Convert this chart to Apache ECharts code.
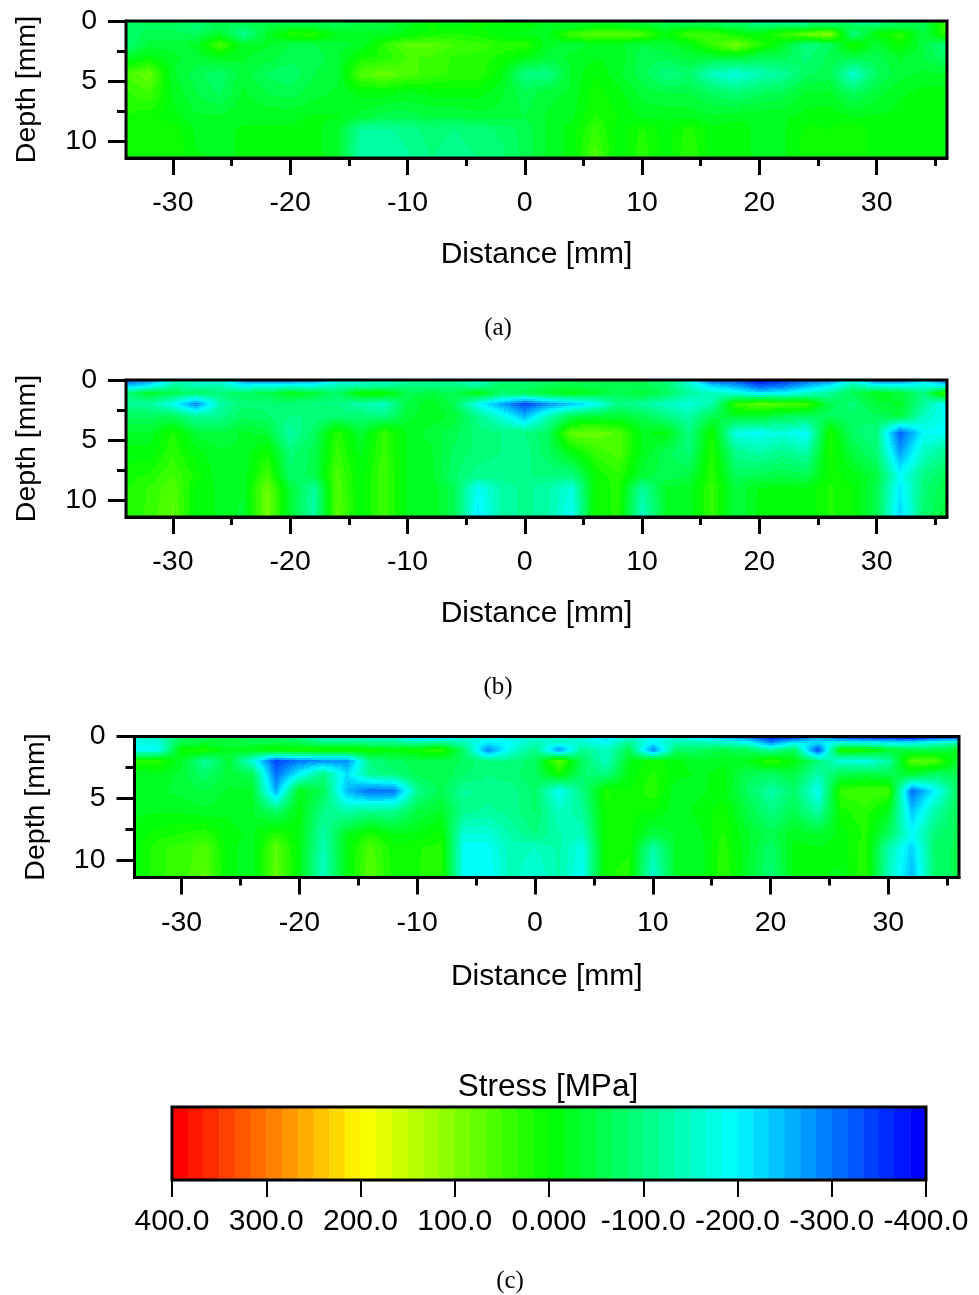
<!DOCTYPE html>
<html>
<head>
<meta charset="utf-8">
<style>
  html, body { margin: 0; padding: 0; background: #fff; }
  #chart { width: 979px; height: 1295px; }
</style>
<script src="https://cdn.jsdelivr.net/npm/echarts@6/dist/echarts.min.js"></script>
</head>
<body>
<div id="chart"></div>
<script>
const distances = [-34, -32, -30, -28, -26, -24, -22, -20, -18, -16, -14, -12, -10, -8, -6, -4, -2, 0, 2, 4, 6, 8, 10, 12, 14, 16, 18, 20, 22, 24, 26, 28, 30, 32, 34, 36];
const depths = [0, 0.5, 1.1, 2, 3, 4.4, 6, 8, 9, 11.4];

// stress in MPa, one row per depth, one column per distance
const stressA = [
  [-70, -60, -60, -70, -50, -50, -50, -60, -70, -80, -60, -50, -30, 10, -10, 10, 10, 10, -20, -30, -30, -30, -50, -70, -70, -80, -100, -110, -110, -110, -100, -110, -120, -70, -50, 40],
  [-70, -70, -70, -90, -60, -80, -50, -40, -40, -50, -40, -40, -20, 0, -10, 0, -10, -10, -30, -30, -10, -10, -20, -40, -30, -40, -50, -70, -60, -60, -40, -60, -60, -50, -60, 50],
  [-80, -60, -60, -70, -30, -110, -30, 20, 25, -20, -30, -30, -10, 10, 20, 10, -10, -20, -20, 50, 70, 70, 60, -10, 50, 50, 0, -10, 40, 80, 110, -100, 0, 30, -50, 40],
  [-90, -40, -40, -30, 55, -30, -30, -50, -50, -40, -30, 30, 70, 70, 50, 40, 30, 30, -30, -40, -30, -30, -50, -40, -20, 40, 90, 30, -30, -100, -70, 20, -40, 10, -50, -100],
  [-30, -10, -30, -40, -20, -30, -40, -60, -60, -40, 10, 20, 50, 50, 30, 30, 10, -10, -40, -30, -20, -20, -60, -60, -40, -40, -30, -60, -60, -90, -60, -50, -60, -30, -50, -80],
  [50, 80, -30, -60, -80, -40, -70, -80, -50, -40, 60, 80, 60, 40, 30, 30, -10, -100, -100, -30, 0, -30, -60, -100, -80, -150, -170, -140, -120, -70, -60, -160, -70, -40, -30, -30],
  [30, 50, -20, -50, -70, -30, -50, -60, -40, -30, -10, -10, -20, -10, -10, -10, -30, -60, -40, -30, 10, -10, -40, -50, -50, -70, -90, -70, -60, -30, -30, -70, -40, -20, -10, -10],
  [15, 5, -10, -30, -30, -20, -20, -20, -15, -15, -40, -60, -60, -50, -50, -40, -40, -50, -30, -20, 20, 0, -20, -20, -20, -30, -20, -20, -20, -10, -5, -15, -15, -10, -5, -5],
  [10, 15, 15, -20, -20, -15, -15, -15, -10, -30, -120, -120, -110, -90, -100, -90, -80, -60, -30, -10, 40, -10, 20, -10, 25, -10, -10, -20, -20, 5, 0, 15, -10, -10, -5, -5],
  [15, 15, 15, -15, -20, -15, -15, -15, -10, -30, -130, -130, -120, -100, -110, -100, -90, -60, -30, -10, 60, -10, 30, -10, 35, -10, -10, -20, -20, 10, 0, 15, -10, -10, -5, -5]
];
const stressB = [
  [-320, -290, -170, -170, -170, -280, -300, -300, -280, -190, -170, -170, -130, -120, -120, -160, -100, -100, -80, -70, -60, -50, -60, -90, -170, -330, -340, -390, -360, -320, -300, -180, -320, -320, -220, -320],
  [-240, -200, -120, -130, -130, -190, -170, -170, -170, -140, -130, -120, -100, -100, -100, -120, -70, -80, -60, -50, -60, -50, -60, -80, -150, -220, -260, -320, -300, -250, -200, -120, -170, -170, -170, -200],
  [-100, -30, -60, -80, -90, -70, -60, -20, -40, -80, 10, 10, -60, -50, -60, -10, -70, -60, -30, -10, -30, -60, -40, -70, -120, -150, -170, -210, -200, -160, -120, -60, -20, -40, -100, 60],
  [-120, -120, -180, -290, -130, -90, -90, -90, -100, -100, -130, -150, -50, -20, -60, -190, -260, -340, -280, -240, -190, -100, -120, -150, -170, -130, 40, 70, 60, 50, -60, -90, -40, -30, -120, -200],
  [-70, -70, -70, -120, -110, -70, -80, -100, -100, -90, -90, -100, -40, -20, -40, -110, -170, -250, -140, -60, -40, -40, -60, -100, -130, -60, -30, -30, -60, -70, -70, -80, -70, -40, -150, -190],
  [-30, -30, 20, -40, -50, -30, -40, -130, -70, 30, -40, 40, -20, -40, -60, -90, -100, -100, -70, 80, 80, 60, -20, -10, -100, 15, -180, -190, -170, -200, 20, -80, -100, -320, -190, -190],
  [-10, -10, 30, -10, -30, -30, 10, -90, -60, 40, -20, 40, -20, -30, -70, -90, -100, -110, -70, -10, 40, 60, -20, -60, -90, 25, -110, -130, -110, -130, 20, -50, -90, -270, -150, -110],
  [10, 20, 50, 10, -30, -30, 50, -80, -60, 60, -10, 50, -20, -30, -80, -110, -110, -100, -100, -100, 0, 30, -40, -60, -50, 30, -70, -60, -50, -60, 10, -10, -50, -190, -100, -60],
  [15, 35, 65, -5, -20, -30, 85, -40, -120, 65, -10, 50, -20, -20, -60, -190, -130, -110, -130, -170, 10, 20, -120, -30, -25, 40, -50, -15, -10, -15, 20, 0, -60, -210, -90, -50],
  [15, 40, 70, -5, -20, -40, 90, -40, -130, 70, -10, 50, -20, -20, -60, -210, -130, -110, -130, -190, 10, 20, -150, -30, -30, 40, -50, -10, -10, -15, 20, 0, -60, -230, -80, -40]
];
const stressC = [
  [-170, -150, -60, -60, -50, -60, -70, -100, -160, -160, -170, -170, -230, -230, -170, -170, -170, -160, -150, -170, -220, -160, -200, -180, -210, -250, -300, -370, -360, -250, -340, -360, -370, -390, -350, -340],
  [-170, -170, -50, -40, -40, -50, -50, -60, -90, -90, -100, -100, -120, -100, -140, -210, -190, -140, -170, -160, -190, -110, -200, -130, -130, -150, -170, -280, -190, -220, -170, -180, -190, -190, -160, -130],
  [-190, -190, 10, 20, -30, -10, 10, 20, 15, 15, 15, -10, 15, 40, -80, -290, -170, -100, -280, -110, -150, -60, -290, -80, -70, -50, -70, -120, -70, -340, 20, 20, -30, -50, -50, -30],
  [20, 30, -30, -120, -40, -170, -340, -300, -280, -280, -100, -70, -60, -50, -70, -100, -100, -70, 70, -70, -150, -20, 10, -10, -30, -20, -20, 40, -10, -90, -170, -180, -130, 70, 60, -40],
  [-30, -20, -40, -80, -40, -60, -310, -200, -100, -220, -110, -90, -60, -50, -80, -100, -90, -70, 10, -80, -100, -10, 20, -10, -20, -10, -60, -70, -50, -130, -60, -50, -60, -30, -70, -60],
  [-30, -30, -40, -50, -30, -30, -260, -20, -60, -250, -310, -300, -110, -60, -120, -110, -110, -80, -190, -100, 20, 0, 30, -30, -20, -10, -70, -130, -80, -190, 40, 50, 50, -310, -200, -70],
  [-20, -20, -20, -30, -20, -30, -80, -10, -100, -130, -110, -110, -50, -30, -110, -120, -110, -80, -150, -120, 15, 5, 0, -30, -10, 10, -50, -100, -60, -130, 10, 30, -20, -240, -130, -60],
  [-10, 10, 20, 30, -10, -20, 30, -10, -130, -20, 25, -10, -10, 10, -170, -170, -130, -100, -130, -150, 15, 10, -50, -30, -20, 20, -30, -60, -20, -30, -10, 20, -70, -190, -90, -60],
  [-10, 30, 40, 60, -10, -30, 70, -10, -140, -10, 60, 5, 15, 25, -190, -190, -140, -150, -130, -180, 15, 15, -130, -30, -30, 30, -30, -80, -10, -15, -10, 30, -130, -230, -80, -60],
  [-10, 30, 40, 70, -10, -30, 75, -10, -150, -10, 70, 10, 15, 30, -190, -200, -140, -170, -130, -190, 15, 20, -160, -30, -30, 35, -30, -90, -10, -15, -20, 35, -140, -250, -80, -60]
];

// tick labels
const distanceTicks = [-30, -20, -10, 0, 10, 20, 30];
const distanceMinorTicks = [-25, -15, -5, 5, 15, 25, 35];
const depthTicks = [0, 5, 10];
const depthMinorTicks = [2.5, 7.5];
const colorbarTicks = [400, 300, 200, 100, 0, -100, -200, -300, -400];
const colorbarLabels = ['400.0', '300.0', '200.0', '100.0', '0.000', '-100.0', '-200.0', '-300.0', '-400.0'];

const palette = [[255, 0, 0], [255, 255, 0], [0, 255, 0], [0, 255, 255], [0, 0, 255]];
const bandCount = 48;
const SANS = '"Liberation Sans", Arial, sans-serif';
const SERIF = '"Liberation Serif", "Times New Roman", serif';

// the colour scale has 48 flat bands, red at the top and blue at the bottom
function bandColor(index) {
  const t = (index / (bandCount - 1)) * (palette.length - 1);
  const k = Math.min(Math.floor(t), palette.length - 2);
  const f = t - k;
  const c = palette[k].map((v, n) => Math.round(v + (palette[k + 1][n] - v) * f));
  return 'rgb(' + c.join(',') + ')';
}
function stressBand(stress) {
  const i = Math.floor(((400 - stress) / 800) * bandCount);
  return Math.max(0, Math.min(bandCount - 1, i));
}

// draws the contour cell between one node and its right and lower neighbours
function contourCell(matrix) {
  return function (params, api) {
    const col = params.dataIndex % distances.length;
    const row = Math.floor(params.dataIndex / distances.length);
    if (col === distances.length - 1 || row === depths.length - 1) return null;
    const p0 = api.coord([distances[col], depths[row]]);
    const p1 = api.coord([distances[col + 1], depths[row + 1]]);
    const x0 = Math.round(p0[0]), x1 = Math.round(p1[0]);
    const y0 = Math.round(p0[1]), y1 = Math.round(p1[1]);
    const a = matrix[row][col], b = matrix[row][col + 1];
    const c = matrix[row + 1][col], d = matrix[row + 1][col + 1];
    const children = [];
    for (let y = y0; y < y1; y += 2) {
      const v = (y + 1 - y0) / (y1 - y0);
      const h = Math.min(2, y1 - y);
      let start = x0;
      let band = -1;
      for (let x = x0; x <= x1; x++) {
        const u = (x + 0.5 - x0) / (x1 - x0);
        const s = (a * (1 - u) + b * u) * (1 - v) + (c * (1 - u) + d * u) * v;
        const next = x === x1 ? -2 : stressBand(s);
        if (next !== band) {
          if (band >= 0) {
            children.push({ type: 'rect', shape: { x: start, y: y, width: x - start, height: h }, style: { fill: bandColor(band) } });
          }
          start = x;
          band = next;
        }
      }
    }
    return { type: 'group', children: children };
  };
}

function nodesOf(matrix) {
  const out = [];
  matrix.forEach((line, r) => line.forEach((v, c) => out.push([distances[c], depths[r], v])));
  return out;
}

const panels = [
  { left: 126, top: 21, width: 821, height: 137, matrix: stressA, nameGap: 82 },
  { left: 126, top: 380, width: 821, height: 137, matrix: stressB, nameGap: 82 },
  { left: 134.5, top: 736.5, width: 824.5, height: 141, matrix: stressC, nameGap: 84 }
];

const grid = [], xAxis = [], yAxis = [], series = [];

panels.forEach((p, i) => {
  grid.push({ show: true, z: 5, outerBoundsMode: 'none', left: p.left, top: p.top, width: p.width, height: p.height, backgroundColor: 'transparent', borderColor: '#000', borderWidth: 3 });
  const lineStyle = { color: '#000', width: 3 };
  xAxis.push({
    type: 'value', gridIndex: i, min: -34, max: 36, position: 'bottom',
    name: 'Distance [mm]', nameLocation: 'middle', nameGap: p.nameGap,
    nameTextStyle: { fontFamily: SANS, fontSize: 30, color: '#000' },
    splitLine: { show: false },
    axisLine: { show: true, onZero: false, lineStyle },
    axisTick: { show: true, length: 17, lineStyle, customValues: distanceTicks },
    axisLabel: { show: true, margin: 31, fontFamily: SANS, fontSize: 28.5, color: '#000', customValues: distanceTicks }
  }, {
    type: 'value', gridIndex: i, min: -34, max: 36, position: 'bottom',
    splitLine: { show: false },
    axisLine: { show: false, onZero: false },
    axisTick: { show: true, length: 8, lineStyle, customValues: distanceMinorTicks },
    axisLabel: { show: false }
  });
  yAxis.push({
    type: 'value', gridIndex: i, min: 0, max: 11.4, inverse: true, position: 'left',
    name: 'Depth [mm]', nameLocation: 'middle', nameGap: 84,
    nameTextStyle: { fontFamily: SANS, fontSize: 28.5, color: '#000' },
    splitLine: { show: false },
    axisLine: { show: true, onZero: false, lineStyle },
    axisTick: { show: true, length: 18, lineStyle, customValues: depthTicks },
    axisLabel: { show: true, margin: 29, fontFamily: SANS, fontSize: 28.5, color: '#000', customValues: depthTicks }
  }, {
    type: 'value', gridIndex: i, min: 0, max: 11.4, inverse: true, position: 'left',
    splitLine: { show: false },
    axisLine: { show: false, onZero: false },
    axisTick: { show: true, length: 9, lineStyle, customValues: depthMinorTicks },
    axisLabel: { show: false }
  });
  series.push({
    type: 'custom', xAxisIndex: i * 2, yAxisIndex: i * 2, coordinateSystem: 'cartesian2d',
    silent: true, clip: true, z: 2, progressive: 0,
    data: nodesOf(p.matrix), encode: { x: 0, y: 1 },
    renderItem: contourCell(p.matrix)
  });
});

// colour bar
const barIndex = panels.length;
grid.push({ show: true, z: 5, outerBoundsMode: 'none', left: 172, top: 1107, width: 754, height: 73, backgroundColor: 'transparent', borderColor: '#000', borderWidth: 3 });
xAxis.push({
  type: 'value', gridIndex: barIndex, min: -400, max: 400, interval: 100, inverse: true, position: 'bottom',
  splitLine: { show: false },
  axisLine: { show: false, onZero: false },
  axisTick: { show: true, length: 17, lineStyle: { color: '#000', width: 2 } },
  axisLabel: {
    margin: 27, fontFamily: SANS, fontSize: 30, color: '#000', hideOverlap: false,
    formatter: (v) => colorbarLabels[colorbarTicks.indexOf(v)]
  }
});
yAxis.push({ type: 'value', gridIndex: barIndex, min: 0, max: 1, show: false });
const bandData = [];
for (let i = 0; i < bandCount; i++) bandData.push([400 - (i + 0.5) * 800 / bandCount, 0.5, i]);
series.push({
  type: 'custom', xAxisIndex: xAxis.length - 1, yAxisIndex: yAxis.length - 1, coordinateSystem: 'cartesian2d',
  silent: true, z: 2, data: bandData, encode: { x: 0, y: 1 },
  renderItem: function (params, api) {
    const half = 400 / bandCount;
    const a = api.coord([api.value(0) + half, 1]);
    const b = api.coord([api.value(0) - half, 0]);
    return { type: 'rect', shape: { x: a[0], y: a[1], width: b[0] - a[0] + 0.5, height: b[1] - a[1] }, style: { fill: bandColor(api.value(2)) } };
  }
});

const caption = (text, x, y) => ({
  text, left: x, top: y, textAlign: 'center', textVerticalAlign: 'middle', padding: 0,
  textStyle: { fontFamily: SERIF, fontSize: 25, fontWeight: 'normal', color: '#000' }
});

const chart = echarts.init(document.getElementById('chart'), null, { renderer: 'canvas' });
chart.setOption({
  animation: false,
  backgroundColor: '#fff',
  title: [
    caption('(a)', 498, 328),
    caption('(b)', 498, 687),
    caption('(c)', 510, 1281),
    { text: 'Stress [MPa]', left: 548, top: 1087, textAlign: 'center', textVerticalAlign: 'middle', padding: 0,
      textStyle: { fontFamily: SANS, fontSize: 31.5, fontWeight: 'normal', color: '#000' } }
  ],
  tooltip: { show: false },
  grid, xAxis, yAxis, series
});
</script>
</body>
</html>
